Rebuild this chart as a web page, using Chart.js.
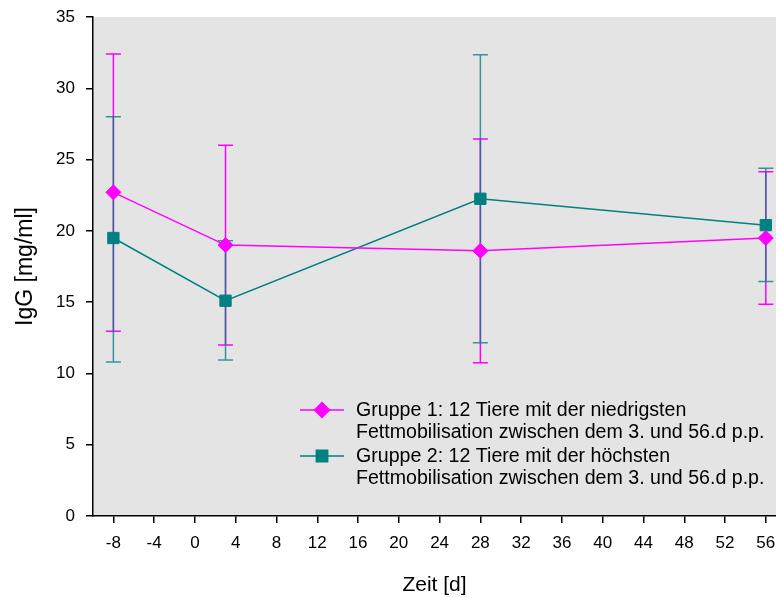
<!DOCTYPE html>
<html>
<head>
<meta charset="utf-8">
<script src="https://cdn.jsdelivr.net/npm/chart.js@4/dist/chart.umd.min.js"></script>
<style>
  body { margin: 0; background: #fff; }
  canvas { display: block; }
</style>
</head>
<body>
<canvas id="iggChart" width="776" height="598"></canvas>
<script>
const days = [-8, 3, 28, 56];
const xTicks = [-8, -4, 0, 4, 8, 12, 16, 20, 24, 28, 32, 36, 40, 44, 48, 52, 56];

const group1Mean = [22.7, 19.0, 18.6, 19.5];
const group1Upper = [32.4, 26.0, 26.45, 24.15];
const group1Lower = [12.95, 12.0, 10.75, 14.85];

const group2Mean = [19.5, 15.1, 22.25, 20.4];
const group2Upper = [28.0, 19.3, 32.35, 24.4];
const group2Lower = [10.8, 10.95, 12.15, 16.45];

const legendLines = [
  ["Gruppe 1: 12 Tiere mit der niedrigsten", "Fettmobilisation zwischen dem 3. und 56.d p.p."],
  ["Gruppe 2: 12 Tiere mit der höchsten", "Fettmobilisation zwischen dem 3. und 56.d p.p."],
];

const MAGENTA = "#ff00ff";
const TEAL = "#008080";
const FONT = "'Liberation Sans', Arial, sans-serif";

function toPoints(values) {
  return values.map((v, i) => ({ x: days[i], y: v }));
}

// grey plot area
const plotBackground = {
  id: "plotBackground",
  beforeDraw(chart) {
    const { ctx, chartArea } = chart;
    ctx.save();
    ctx.fillStyle = "#e4e4e4";
    ctx.fillRect(chartArea.left, chartArea.top, chartArea.right - chartArea.left, chartArea.bottom - chartArea.top);
    ctx.restore();
  },
};

// vertical error bars with caps
const errorBars = {
  id: "errorBars",
  beforeDatasetsDraw(chart) {
    const { ctx } = chart;
    const xs = chart.scales.x;
    const ys = chart.scales.y;
    const groups = [
      { lower: group1Lower, upper: group1Upper, color: MAGENTA },
      { lower: group2Lower, upper: group2Upper, color: "rgba(0, 128, 128, 0.78)" },
    ];
    ctx.save();
    ctx.lineWidth = 1.5;
    groups.forEach((g) => {
      ctx.strokeStyle = g.color;
      days.forEach((d, i) => {
        const x = xs.getPixelForValue(d);
        const yTop = ys.getPixelForValue(g.upper[i]);
        const yBot = ys.getPixelForValue(g.lower[i]);
        ctx.beginPath();
        ctx.moveTo(x, yTop);
        ctx.lineTo(x, yBot);
        ctx.moveTo(x - 7.5, yTop);
        ctx.lineTo(x + 7.5, yTop);
        ctx.moveTo(x - 7.5, yBot);
        ctx.lineTo(x + 7.5, yBot);
        ctx.stroke();
      });
    });
    ctx.restore();
  },
};

// legend inside the plot, two lines per entry
const insideLegend = {
  id: "insideLegend",
  afterDraw(chart) {
    const { ctx } = chart;
    const entries = [
      { color: MAGENTA, style: "rectRot", radius: 7.5, y: 410 },
      { color: TEAL, style: "rect", radius: 8, y: 456 },
    ];
    ctx.save();
    entries.forEach((e, i) => {
      ctx.strokeStyle = e.color;
      ctx.fillStyle = e.color;
      ctx.lineWidth = 1.5;
      ctx.beginPath();
      ctx.moveTo(300, e.y);
      ctx.lineTo(344, e.y);
      ctx.stroke();
      Chart.helpers.drawPoint(ctx, { pointStyle: e.style, radius: e.radius, borderWidth: 1 }, 322, e.y);
      ctx.fillStyle = "#000";
      ctx.font = "19.6px " + FONT;
      ctx.textBaseline = "middle";
      ctx.textAlign = "left";
      legendLines[i].forEach((line, j) => {
        ctx.fillText(line, 356, e.y + 1 + j * 22);
      });
    });
    ctx.restore();
  },
};

new Chart(document.getElementById("iggChart"), {
  type: "line",
  data: {
    datasets: [
      {
        label: legendLines[0].join(" "),
        data: toPoints(group1Mean),
        borderColor: MAGENTA,
        backgroundColor: MAGENTA,
        borderWidth: 1.5,
        pointStyle: "rectRot",
        pointRadius: 7.5,
        pointBorderWidth: 1,
        tension: 0,
      },
      {
        label: legendLines[1].join(" "),
        data: toPoints(group2Mean),
        borderColor: TEAL,
        backgroundColor: TEAL,
        borderWidth: 1.5,
        pointStyle: "rect",
        pointRadius: 8,
        pointBorderWidth: 1,
        tension: 0,
      },
    ],
  },
  options: {
    responsive: false,
    animation: false,
    layout: { autoPadding: false, padding: { top: 17, right: 0, bottom: 0, left: 0 } },
    plugins: {
      legend: { display: false },
      tooltip: { enabled: false },
    },
    scales: {
      x: {
        type: "linear",
        min: -10,
        max: 57,
        afterBuildTicks: (axis) => {
          axis.ticks = xTicks.map((v) => ({ value: v }));
        },
        afterFit: (axis) => {
          axis.height = 82;
          axis.paddingLeft = 0;
          axis.paddingRight = 0;
        },
        border: { display: true, color: "#000", width: 1.5 },
        grid: { drawOnChartArea: false, drawTicks: true, tickLength: 7, color: "#000", lineWidth: 1.5 },
        ticks: {
          color: "#000",
          padding: 10,
          autoSkip: false,
          maxRotation: 0,
          font: { size: 17, family: FONT },
        },
        title: {
          display: true,
          text: "Zeit [d]",
          color: "#000",
          padding: { top: 0, bottom: 0 },
          font: { size: 21, family: FONT },
        },
      },
      y: {
        min: 0,
        max: 35,
        afterFit: (axis) => {
          axis.width = 93;
          axis.paddingTop = 0;
          axis.paddingBottom = 0;
        },
        border: { display: true, color: "#000", width: 1.5 },
        grid: { drawOnChartArea: false, drawTicks: true, tickLength: 7, color: "#000", lineWidth: 1.5 },
        ticks: {
          stepSize: 5,
          color: "#000",
          padding: 11,
          font: { size: 17, family: FONT },
        },
        title: {
          display: true,
          text: "IgG [mg/ml]",
          color: "#000",
          padding: { top: 12, bottom: 0 },
          font: { size: 23, family: FONT },
        },
      },
    },
  },
  plugins: [plotBackground, errorBars, insideLegend],
});
</script>
</body>
</html>
